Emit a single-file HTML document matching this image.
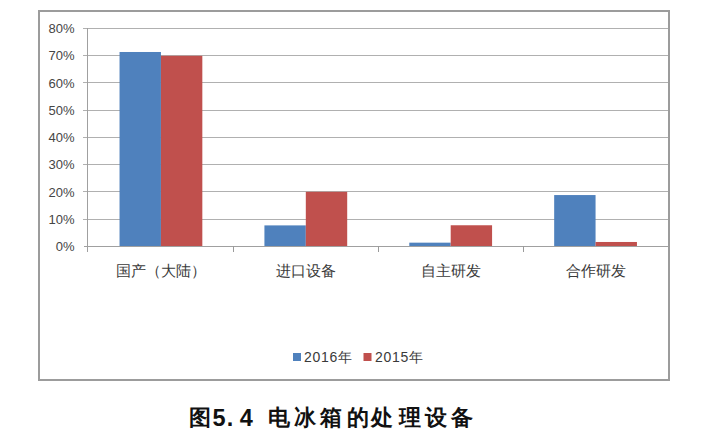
<!DOCTYPE html>
<html><head><meta charset="utf-8">
<style>
html,body{margin:0;padding:0;background:#fff;}
body{width:720px;height:441px;position:relative;overflow:hidden;font-family:"Liberation Sans",sans-serif;color:#404040;}
svg{position:absolute;left:0;top:0;}
.yl{position:absolute;left:30px;width:44.5px;text-align:right;font-size:13px;line-height:15px;color:#454545;}
.cl{position:absolute;width:160px;text-align:center;font-size:15px;line-height:18px;top:262px;color:#3a3a3a;}
.lg{position:absolute;font-size:14px;line-height:16px;top:349px;color:#3a3a3a;letter-spacing:0.7px;}
.tc{position:absolute;top:403px;width:40px;text-align:center;font-size:23.5px;line-height:30px;font-weight:bold;color:#111;}
</style></head><body>
<svg width="720" height="441" viewBox="0 0 720 441">
<rect x="39" y="11" width="630" height="369" fill="none" stroke="#9c9c9c" stroke-width="2"/>
<line x1="83" y1="219.5" x2="668" y2="219.5" stroke="#b0b0b0" stroke-width="1"/><line x1="83" y1="191.5" x2="668" y2="191.5" stroke="#b0b0b0" stroke-width="1"/><line x1="83" y1="164.5" x2="668" y2="164.5" stroke="#b0b0b0" stroke-width="1"/><line x1="83" y1="137.5" x2="668" y2="137.5" stroke="#b0b0b0" stroke-width="1"/><line x1="83" y1="110.5" x2="668" y2="110.5" stroke="#b0b0b0" stroke-width="1"/><line x1="83" y1="82.5" x2="668" y2="82.5" stroke="#b0b0b0" stroke-width="1"/><line x1="83" y1="55.5" x2="668" y2="55.5" stroke="#b0b0b0" stroke-width="1"/><line x1="83" y1="28.5" x2="668" y2="28.5" stroke="#b0b0b0" stroke-width="1"/>
<rect x="119.54" y="51.99" width="41.39" height="194.01" fill="#4f81bd"/><rect x="160.94" y="55.80" width="41.39" height="190.20" fill="#c0504d"/><rect x="264.42" y="225.39" width="41.39" height="20.61" fill="#4f81bd"/><rect x="305.81" y="191.80" width="41.39" height="54.20" fill="#c0504d"/><rect x="409.29" y="242.66" width="41.39" height="3.34" fill="#4f81bd"/><rect x="450.69" y="225.26" width="41.39" height="20.74" fill="#c0504d"/><rect x="554.17" y="195.06" width="41.39" height="50.94" fill="#4f81bd"/><rect x="595.56" y="241.98" width="41.39" height="4.02" fill="#c0504d"/>
<line x1="84" y1="246.5" x2="668" y2="246.5" stroke="#a0a0a0" stroke-width="1"/>
<line x1="87.5" y1="28" x2="87.5" y2="252" stroke="#a0a0a0" stroke-width="1"/>
<line x1="233.5" y1="246" x2="233.5" y2="252" stroke="#9a9a9a" stroke-width="1"/><line x1="378.5" y1="246" x2="378.5" y2="252" stroke="#9a9a9a" stroke-width="1"/><line x1="523.5" y1="246" x2="523.5" y2="252" stroke="#9a9a9a" stroke-width="1"/>
<rect x="293" y="353" width="8" height="8" fill="#4f81bd"/>
<rect x="363.5" y="353" width="8" height="8" fill="#c0504d"/>
</svg>
<div class="yl" style="top:239px">0%</div><div class="yl" style="top:212px">10%</div><div class="yl" style="top:185px">20%</div><div class="yl" style="top:157px">30%</div><div class="yl" style="top:130px">40%</div><div class="yl" style="top:103px">50%</div><div class="yl" style="top:76px">60%</div><div class="yl" style="top:48px">70%</div><div class="yl" style="top:21px">80%</div>
<div class="cl" style="left:80.9px">国产（大陆）</div><div class="cl" style="left:225.8px">进口设备</div><div class="cl" style="left:370.7px">自主研发</div><div class="cl" style="left:515.6px">合作研发</div>
<div class="lg" style="left:304px">2016年</div>
<div class="lg" style="left:375px">2015年</div>
<span class="tc" style="left:180.3px;font-size:22px">图</span><span class="tc" style="left:199.1px">5</span><span class="tc" style="left:210.0px">.</span><span class="tc" style="left:226.3px">4</span><span class="tc" style="left:258.8px;font-size:22px">电</span><span class="tc" style="left:284.7px;font-size:22px">冰</span><span class="tc" style="left:311.2px;font-size:22px">箱</span><span class="tc" style="left:337.5px;font-size:22px">的</span><span class="tc" style="left:362.2px;font-size:22px">处</span><span class="tc" style="left:390.0px;font-size:22px">理</span><span class="tc" style="left:416.0px;font-size:22px">设</span><span class="tc" style="left:441.9px;font-size:22px">备</span>
</body></html>
